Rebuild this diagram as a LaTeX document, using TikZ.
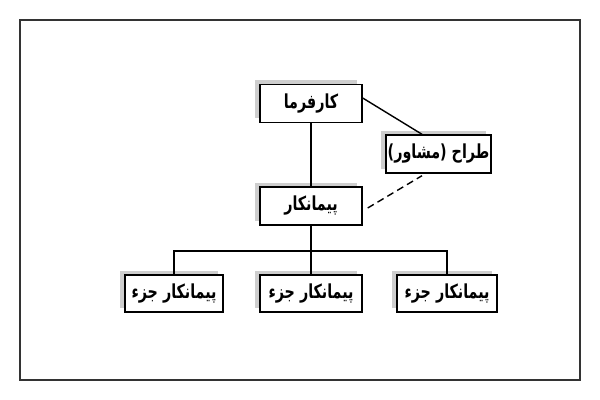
\documentclass[tikz,border=0pt]{standalone}
\usepackage{fontspec}
\usepackage{tikz}
\usetikzlibrary{positioning,calc,shadows}
\TeXXeTstate=1
\newfontfamily\farsifont[Script=Arabic, FakeStretch=0.74]{DejaVu Sans}

\tikzset{
    orgbox/.style={draw, thick, fill=white, minimum height=0.76cm, minimum width=2.04cm,
        inner sep=1pt, font=\farsifont\bfseries\fontsize{11}{13}\selectfont,
        drop shadow={shadow xshift=-0.1cm, shadow yshift=0.08cm, fill=gray!55, opacity=0.7}},
    link/.style={thick}
}

\begin{document}
\begin{tikzpicture}
    \useasboundingbox (0,0) rectangle (12,-8);
    % Frame
    \draw[line width=1.2pt, black!80] (0.4,-0.4) rectangle (11.6,-7.6);

    % Main chain
    \node[orgbox] (boss) at (6.22,-2.07) {\beginR کارفرما\endR};
    \node[orgbox, minimum width=2.06cm] (designer) at (8.77,-3.08) {\beginR طراح (مشاور)\endR};
    \node[orgbox] (contractor) at (6.22,-4.12) {\beginR پیمانکار\endR};

    % Sub contractors
    \node[orgbox, minimum width=1.96cm, minimum height=0.74cm] (sub1) at (3.48,-5.87) {\beginR پیمانکار جزء\endR};
    \node[orgbox, minimum height=0.74cm] (sub2) at (6.22,-5.87) {\beginR پیمانکار جزء\endR};
    \node[orgbox, minimum width=2.0cm, minimum height=0.74cm] (sub3) at (8.94,-5.87) {\beginR پیمانکار جزء\endR};

    % Links
    \draw[link] (boss) -- (contractor);
    \draw[link] ([yshift=0.11cm]boss.east) -- ([xshift=-0.33cm]designer.north);
    \draw[link, dash pattern=on 4pt off 2.5pt] ([xshift=0.1cm,yshift=-0.04cm]contractor.east) -- ([xshift=-0.33cm,yshift=-0.04cm]designer.south);
    \coordinate (bus) at (6.22,-5.02);
    \draw[link] (contractor) -- (sub2);
    \draw[link] (sub1.north) |- (bus) -| (sub3.north);
\end{tikzpicture}
\end{document}
